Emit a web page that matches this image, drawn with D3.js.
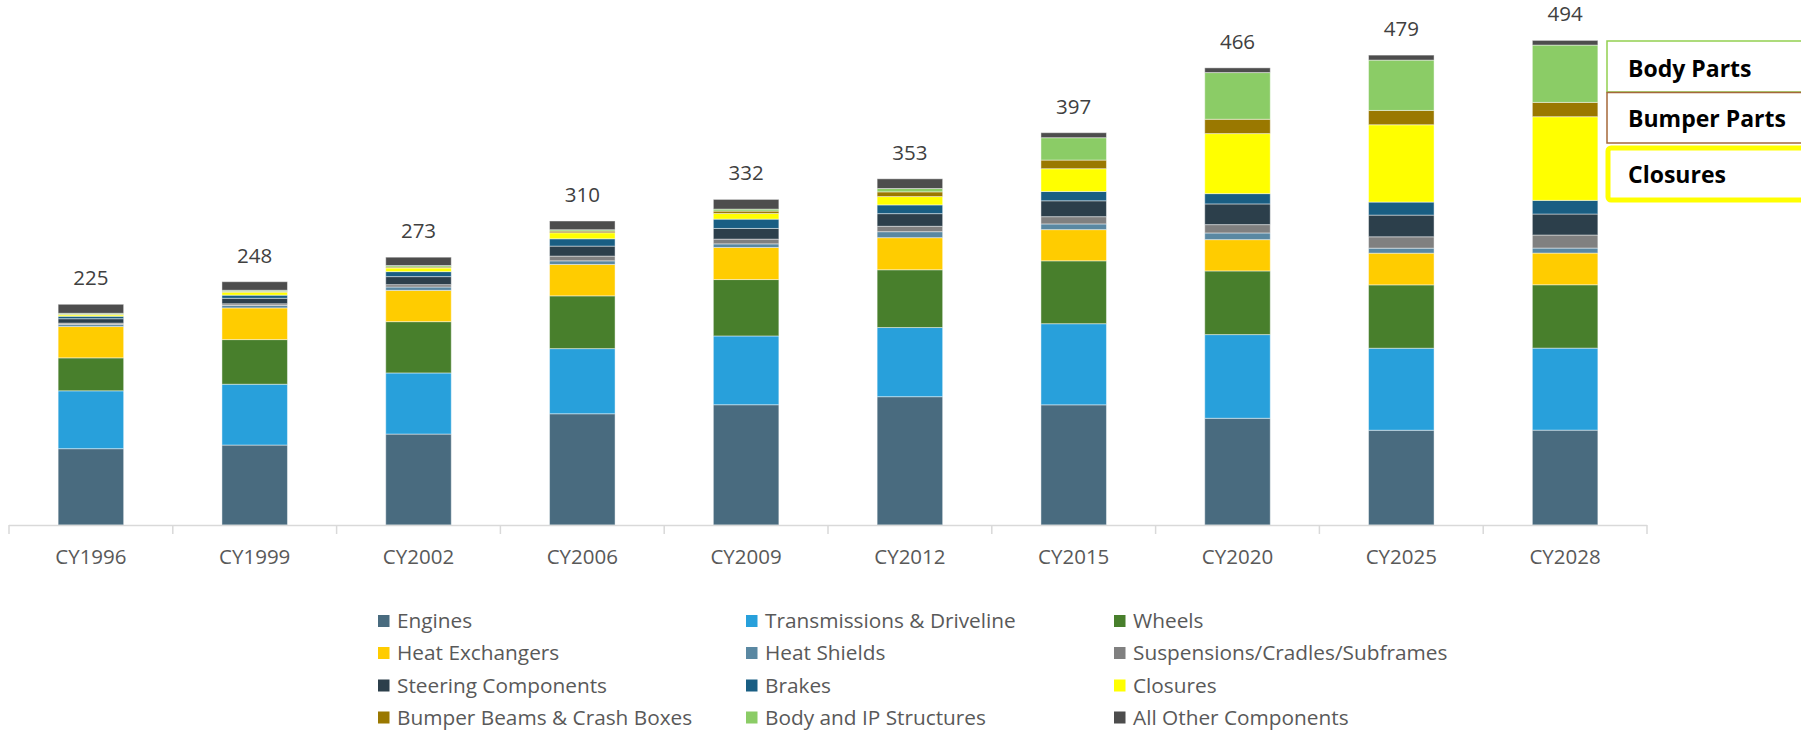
<!DOCTYPE html>
<html><head><meta charset="utf-8">
<script src="https://cdn.jsdelivr.net/npm/d3@7"></script>
<style>
html,body{margin:0;padding:0;background:#fff;overflow:hidden;}
svg{display:block;}
text{font-family:"Open Sans",sans-serif;}
</style></head><body>
<svg id="chart" width="1801" height="731"></svg>
<script>
// ---- data ----
const categories = ["CY1996","CY1999","CY2002","CY2006","CY2009","CY2012","CY2015","CY2020","CY2025","CY2028"];
const totals = [225,248,273,310,332,353,397,466,479,494];
const seriesNames = ["Engines","Transmissions & Driveline","Wheels","Heat Exchangers","Heat Shields",
  "Suspensions/Cradles/Subframes","Steering Components","Brakes","Closures","Bumper Beams & Crash Boxes",
  "Body and IP Structures","All Other Components"];
const seriesColors = ["#496b7f","#28a0db","#487f2c","#ffcc00","#5a88a2","#808080","#2c3f4b","#195e83","#ffff00","#9a7800","#8bcc66","#4d4d4d"];
const engines        = [77.8, 81.5, 92.7, 113.4, 122.6, 130.8, 122.5, 108.8, 96.6, 96.7];
const transmissions  = [59.0, 62.0, 62.3, 66.4, 70.1, 70.5, 82.7, 85.3, 83.6, 83.6];
const wheels         = [33.6, 45.5, 52.3, 53.8, 57.5, 58.9, 64.1, 64.9, 64.6, 64.6];
const heatExchangers = [31.9, 32.3, 31.9, 32.0, 32.7, 32.7, 31.8, 31.9, 32.3, 32.3];
const heatShields    = [2.0, 2.5, 3.4, 3.7, 3.7, 6.1, 5.8, 6.8, 5.1, 5.1];
const suspensions    = [1.5, 1.7, 2.4, 4.8, 4.8, 5.5, 7.4, 8.5, 11.6, 13.3];
const steering       = [4.5, 5.6, 8.2, 10.2, 10.9, 12.9, 16.2, 21.1, 22.1, 21.4];
const brakes         = [2.5, 3.2, 5.1, 7.5, 9.5, 8.9, 9.5, 10.5, 13.3, 13.9];
const closures       = [1.5, 3.0, 3.7, 6.1, 5.8, 8.5, 23.2, 61.2, 78.8, 85.3];
const bumperBeams    = [0.5, 0.8, 1.0, 1.7, 2.4, 4.8, 8.8, 14.6, 14.6, 14.6];
const bodyIP         = [1.0, 1.2, 1.5, 1.4, 2.0, 3.4, 22.8, 47.6, 51.3, 58.4];
const allOther       = [9.2, 8.7, 8.5, 8.9, 9.9, 9.9, 5.1, 4.8, 5.1, 4.8];
const seriesValues = [engines, transmissions, wheels, heatExchangers, heatShields, suspensions,
  steering, brakes, closures, bumperBeams, bodyIP, allOther];
const groupLabels = ["Body Parts","Bumper Parts","Closures"];
const groupColors = ["#92d050","#a5683a","#ffff00"];

// ---- build table ----
const keys = seriesNames;
const table = categories.map((c,i)=>{
  const row = {cat:c, total: totals[i]};
  keys.forEach((k,j)=> row[k] = seriesValues[j][i]);
  return row;
});
const stacked = d3.stack().keys(keys)(table);

const svg = d3.select("#chart");
const x = d3.scaleBand().domain(categories).range([9,1647]).paddingInner(0.6).paddingOuter(0.3);
const xb = d3.scaleBand().domain(categories).range([9,1647]).padding(0);
const y = d3.scaleLinear().domain([0,500]).range([525,34.5]);
const color = d3.scaleOrdinal().domain(keys).range(seriesColors);

// bars
svg.append("g").selectAll("g").data(stacked).join("g")
  .attr("fill", d=>color(d.key))
  .selectAll("rect").data(d=>d).join("rect")
  .attr("x", d=>x(d.data.cat))
  .attr("width", x.bandwidth())
  .attr("y", d=>y(d[1]))
  .attr("height", d=>Math.max(0, y(d[0])-y(d[1])))
  .attr("stroke","#ffffff").attr("stroke-opacity",0.45).attr("stroke-width",1);

// axis line + boundary ticks
const ax = svg.append("g");
ax.append("line").attr("x1",xb.range()[0]).attr("x2",xb.range()[1])
  .attr("y1",y(0)+0.5).attr("y2",y(0)+0.5).attr("stroke","#d9d9d9").attr("stroke-width",1.5);
const bounds = categories.map(c=>xb(c)).concat([xb.range()[1]]);
ax.selectAll("line.tk").data(bounds).join("line").attr("class","tk")
  .attr("x1",d=>d).attr("x2",d=>d).attr("y1",y(0)).attr("y2",y(0)+9)
  .attr("stroke","#d9d9d9").attr("stroke-width",1.5);
ax.selectAll("text").data(categories).join("text")
  .attr("x",d=>x(d)+x.bandwidth()/2).attr("y",y(0)+39)
  .attr("text-anchor","middle").attr("font-size",20.5).attr("fill","#595959").text(d=>d);

// total labels
svg.append("g").selectAll("text").data(table).join("text")
  .attr("x",d=>x(d.cat)+x.bandwidth()/2)
  .attr("y",d=>y(d3.sum(seriesValues, s=>s[categories.indexOf(d.cat)]))-19)
  .attr("text-anchor","middle").attr("font-size",20.5).attr("fill","#404040").text(d=>d.total);

// legend
const colX = [378, 746, 1114], rowY = [621, 653, 685.5, 717.5];
const lg = svg.append("g").selectAll("g").data(keys).join("g")
  .attr("transform",(d,i)=>`translate(${colX[i%3]},${rowY[Math.floor(i/3)]})`);
lg.append("rect").attr("x",0).attr("y",-6).attr("width",11.5).attr("height",12).attr("fill",d=>color(d));
lg.append("text").attr("x",19).attr("y",7).attr("font-size",20.8).attr("fill","#595959").text(d=>d);

// group annotation boxes
const boxes = [{y:41,h:51,sw:1.5},{y:92.5,h:50.5,sw:1.5},{y:148,h:52,sw:5}];
const bg = svg.append("g").selectAll("g").data(groupLabels).join("g");
bg.append("rect").attr("x",(d,i)=>i===2?1608:1607).attr("y",(d,i)=>boxes[i].y)
  .attr("width",260).attr("height",(d,i)=>boxes[i].h).attr("rx",(d,i)=>i===2?3:0)
  .attr("fill","#ffffff").attr("stroke",(d,i)=>groupColors[i]).attr("stroke-width",(d,i)=>boxes[i].sw);
bg.append("text").attr("x",1628).attr("y",(d,i)=>[77,127,183][i])
  .attr("font-size",23).attr("font-weight","bold").attr("fill","#000").text(d=>d);
</script>
</body></html>
